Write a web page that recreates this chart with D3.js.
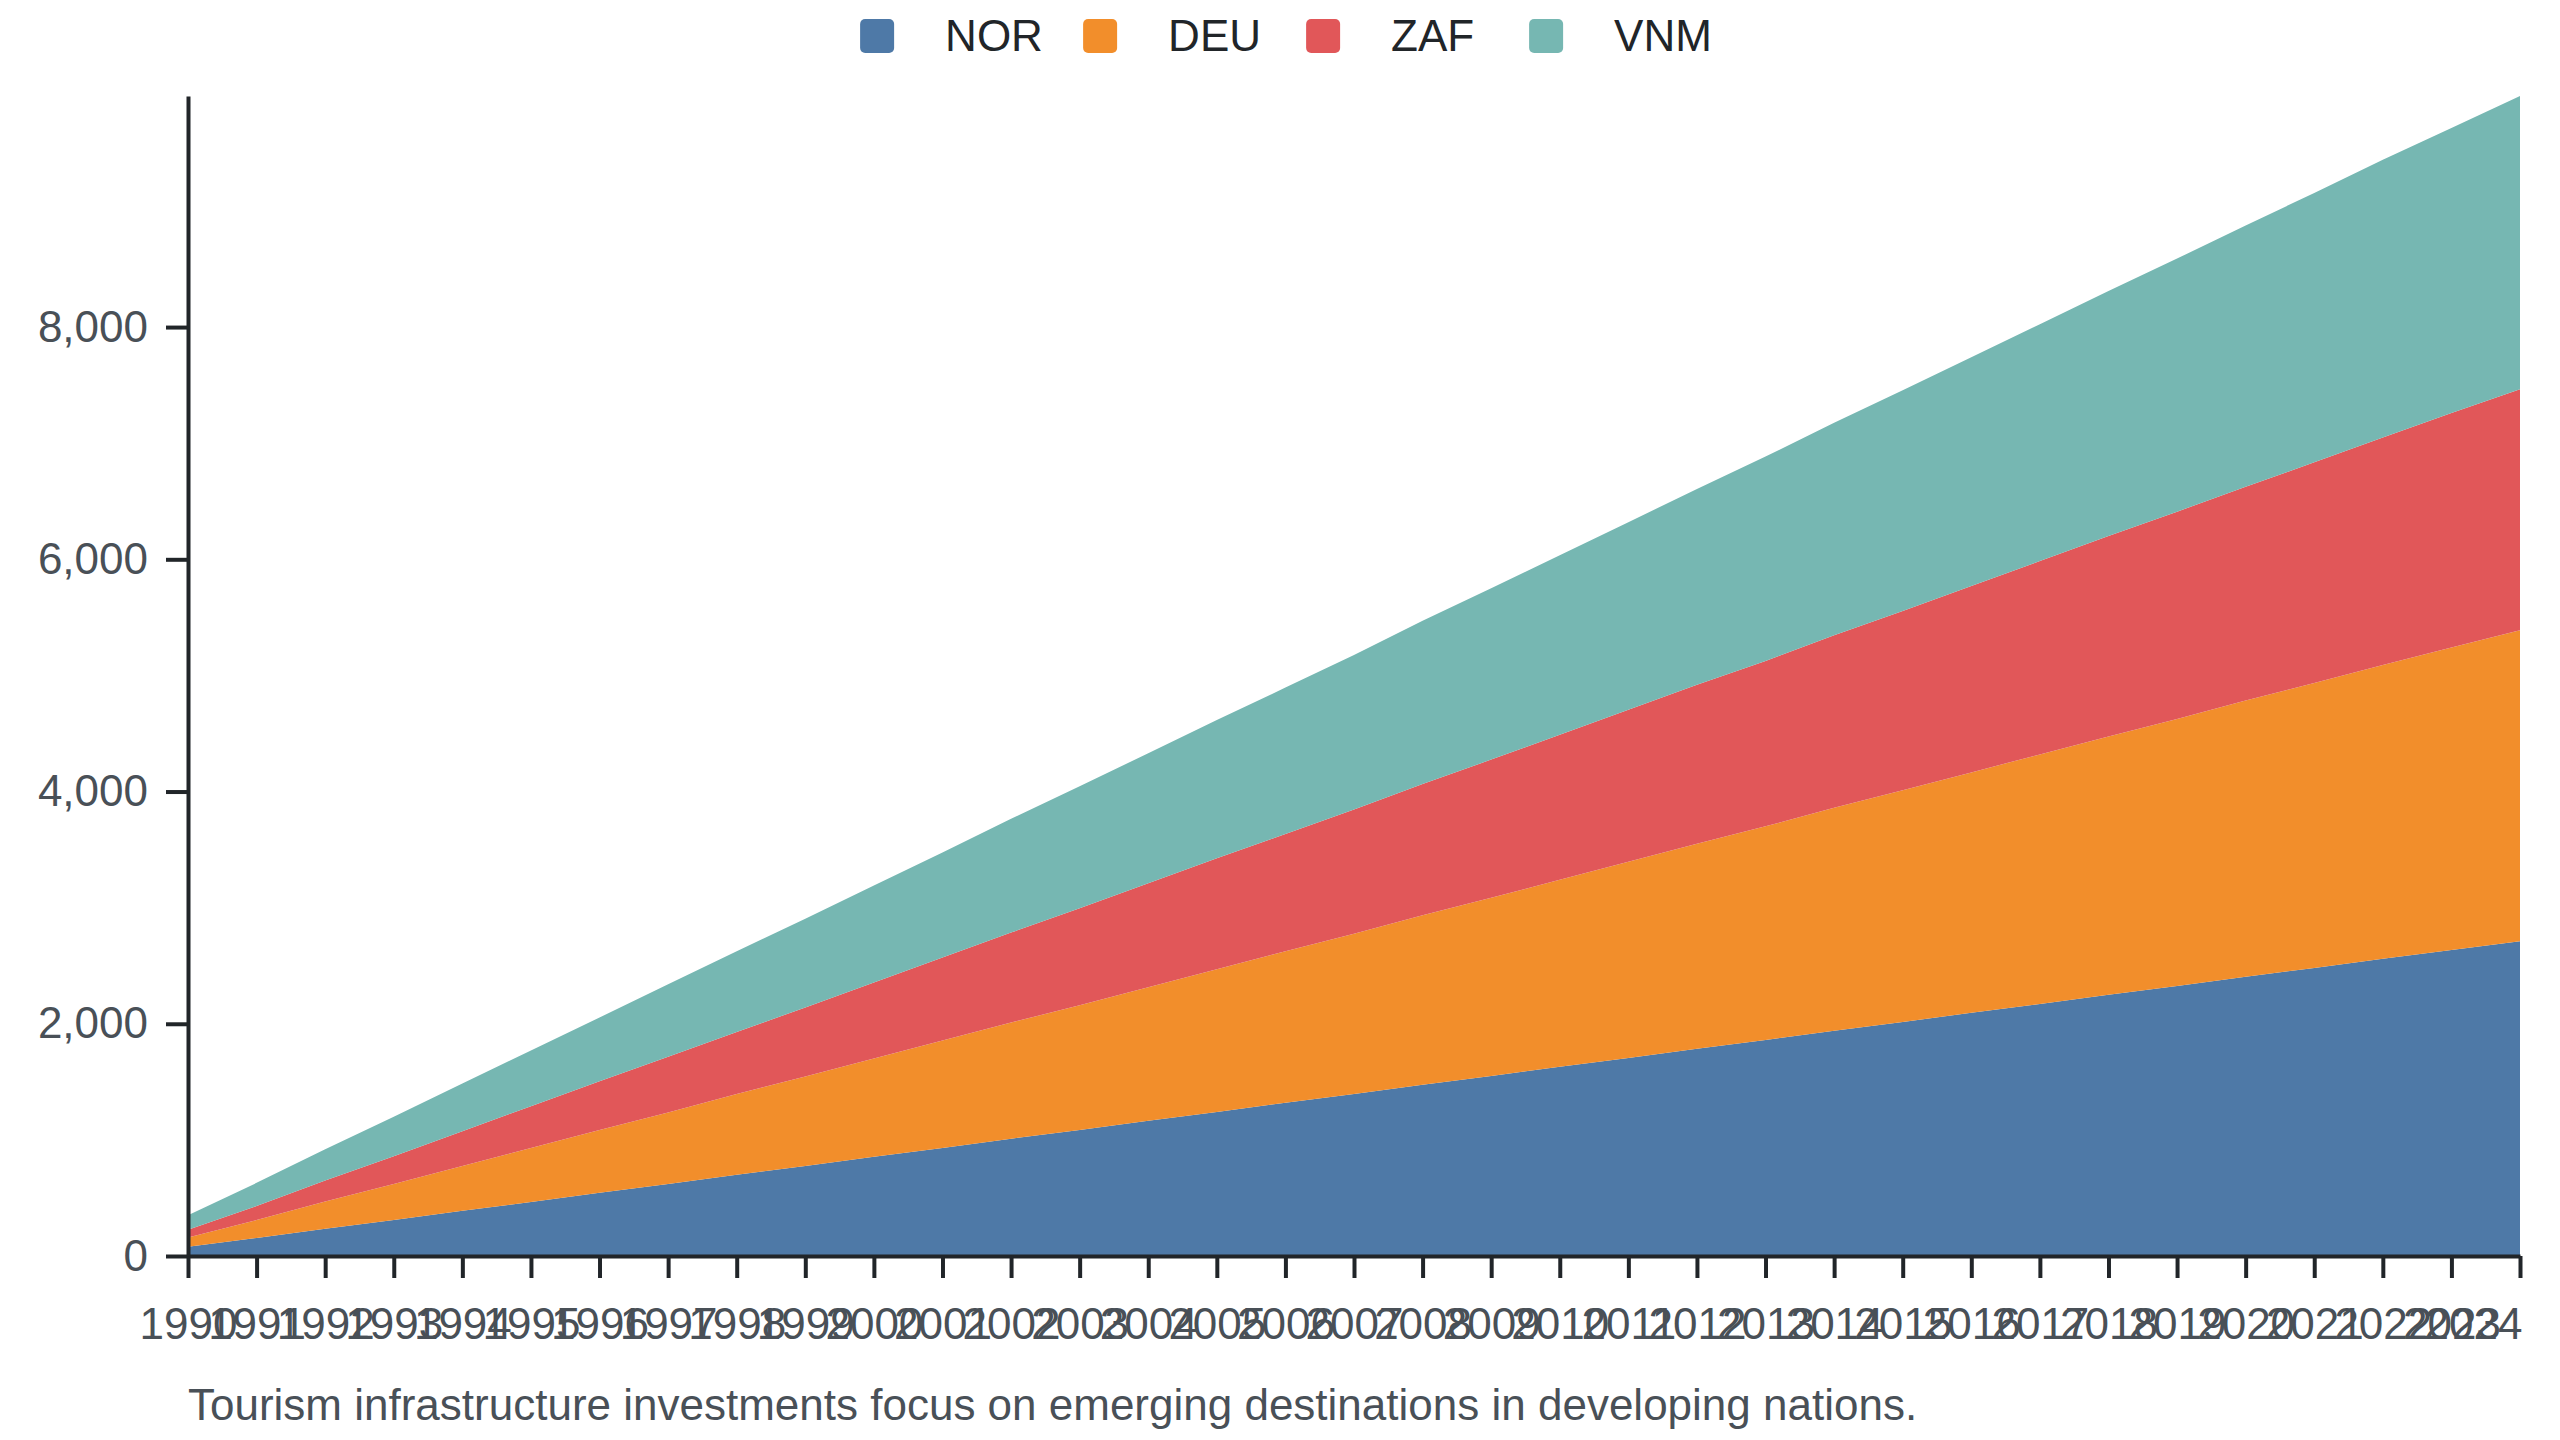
<!DOCTYPE html>
<html>
<head>
<meta charset="utf-8">
<script src="https://cdn.jsdelivr.net/npm/d3@7"></script>
<style>
    body { margin: 0; background: #fff; }
    text { font-family: "Liberation Sans", Arial, Helvetica, sans-serif; }
</style>
</head>
<body>
<div id="chart-area"></div>
<script>
var years = [1990, 1991, 1992, 1993, 1994, 1995, 1996, 1997, 1998, 1999,
    2000, 2001, 2002, 2003, 2004, 2005, 2006, 2007, 2008, 2009,
    2010, 2011, 2012, 2013, 2014, 2015, 2016, 2017, 2018, 2019,
    2020, 2021, 2022, 2023, 2024];

var countries = ["NOR", "DEU", "ZAF", "VNM"];

var norValues = [80, 155, 235, 310, 390, 465, 545, 620, 700, 775,
    855, 930, 1010, 1085, 1165, 1240, 1320, 1395, 1475, 1550,
    1630, 1705, 1785, 1860, 1940, 2015, 2095, 2170, 2250, 2325,
    2405, 2480, 2560, 2635, 2710];
var deuValues = [80, 155, 235, 310, 385, 465, 540, 615, 695, 770,
    845, 925, 1000, 1075, 1150, 1230, 1305, 1380, 1460, 1535,
    1610, 1690, 1765, 1840, 1920, 1995, 2070, 2150, 2225, 2300,
    2380, 2455, 2530, 2605, 2680];
var zafValues = [65, 120, 180, 240, 300, 360, 420, 480, 535, 595,
    655, 715, 775, 835, 895, 955, 1010, 1070, 1130, 1190,
    1250, 1310, 1370, 1425, 1485, 1545, 1605, 1665, 1725, 1785,
    1840, 1900, 1960, 2020, 2075];
var vnmValues = [125, 200, 270, 340, 410, 480, 550, 625, 695, 765,
    835, 905, 980, 1050, 1120, 1190, 1260, 1330, 1405, 1475,
    1545, 1615, 1685, 1760, 1830, 1900, 1970, 2040, 2110, 2180,
    2250, 2320, 2390, 2455, 2525];

var colors = ["#4e79a7", "#f28e2b", "#e15759", "#76b7b2"];
var caption = "Tourism infrastructure investments focus on emerging destinations in developing nations.";

var W = 2560, H = 1440;
var margin = { left: 188, right: 40, top: 96, bottom: 184 };
var width = W - margin.left - margin.right;
var height = H - margin.top - margin.bottom;

// rows for the stack
var seriesValues = [norValues, deuValues, zafValues, vnmValues];
var rows = years.map((yr, i) => {
    var row = { year: yr };
    countries.forEach((c, j) => { row[c] = seriesValues[j][i]; });
    return row;
});

var stacked = d3.stack().keys(countries)(rows);

var svg = d3.select("#chart-area").append("svg")
    .attr("width", W)
    .attr("height", H);

var g = svg.append("g")
    .attr("transform", `translate(${margin.left}, ${margin.top})`);

var x = d3.scaleLinear()
    .domain(d3.extent(years))
    .range([0, width]);

var y = d3.scaleLinear()
    .domain([0, d3.max(stacked[stacked.length - 1], d => d[1])])
    .range([height, 0]);

var color = d3.scaleOrdinal()
    .domain(countries)
    .range(colors);

var area = d3.area()
    .x(d => x(d.data.year))
    .y0(d => y(d[0]))
    .y1(d => y(d[1]));

g.selectAll(".layer")
    .data(stacked)
    .enter().append("path")
    .attr("class", "layer")
    .attr("d", area)
    .attr("fill", d => color(d.key));

var xAxisCall = d3.axisBottom(x)
    .tickValues(years)
    .tickFormat(d3.format("d"))
    .tickSize(22)
    .tickSizeOuter(0)
    .tickPadding(30);

var yAxisCall = d3.axisLeft(y)
    .ticks(5)
    .tickSize(22)
    .tickSizeOuter(0)
    .tickPadding(18);

var xAxisGroup = g.append("g")
    .attr("class", "x-axis")
    .attr("transform", `translate(0, ${height})`)
    .call(xAxisCall);

var yAxisGroup = g.append("g")
    .attr("class", "y-axis")
    .call(yAxisCall);

[xAxisGroup, yAxisGroup].forEach(ax => {
    ax.selectAll("path, line")
        .attr("stroke", "#212529")
        .attr("stroke-width", 4);
    ax.selectAll("text")
        .attr("fill", "#495057")
        .style("font-size", "44px");
});

// last year label sits flush with the right end
xAxisGroup.selectAll(".tick")
    .filter(d => d === years[years.length - 1])
    .select("text")
    .attr("text-anchor", "end")
    .attr("x", 2);

// legend, centred above the plot
var legend = svg.append("g").attr("class", "legend");
var itemStep = 223;
var legendItems = legend.selectAll(".item")
    .data(countries)
    .enter().append("g")
    .attr("class", "item")
    .attr("transform", (d, i) => `translate(${i * itemStep}, 0)`);

legendItems.append("rect")
    .attr("x", 0)
    .attr("y", 19)
    .attr("width", 34)
    .attr("height", 34)
    .attr("rx", 5)
    .attr("fill", d => color(d));

legendItems.append("text")
    .attr("x", 85)
    .attr("y", 51)
    .attr("fill", "#212529")
    .style("font-size", "44px")
    .text(d => d);

var lastText = legendItems.filter((d, i) => i === countries.length - 1).select("text").node();
var legendWidth = (countries.length - 1) * itemStep + 85 + lastText.getComputedTextLength();
legend.attr("transform", `translate(${(W - legendWidth) / 2 + 6}, 0)`);

svg.append("text")
    .attr("x", margin.left)
    .attr("y", 1420)
    .attr("fill", "#495057")
    .style("font-size", "44px")
    .text(caption);
</script>
</body>
</html>
